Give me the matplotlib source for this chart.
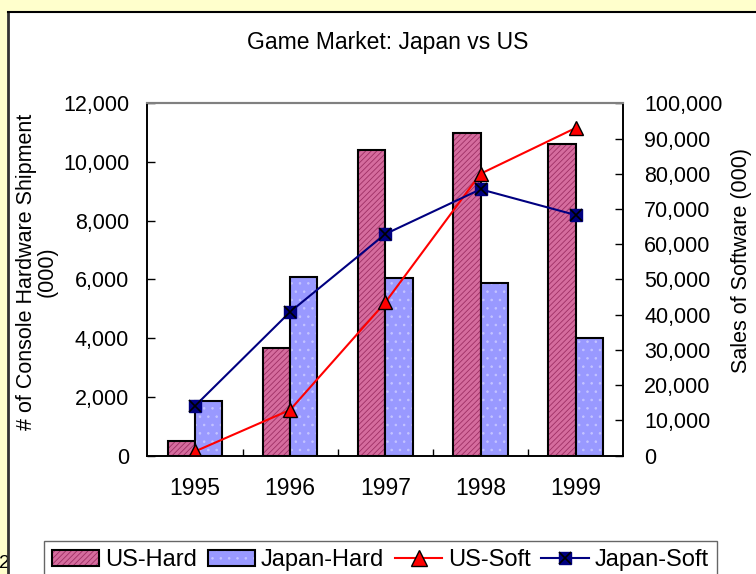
import matplotlib
matplotlib.use('Agg')
import numpy as np
import matplotlib.pyplot as plt
from matplotlib.patches import Rectangle, Patch
from matplotlib.lines import Line2D
from matplotlib.ticker import FuncFormatter, MultipleLocator

years = ['1995', '1996', '1997', '1998', '1999']
us_hard = [500, 3680, 10420, 10980, 10600]        # console hardware (000)
japan_hard = [1850, 6100, 6060, 5870, 4020]
us_soft = [1200, 13000, 43500, 80000, 93000]      # software sales (000)
japan_soft = [14100, 40800, 62900, 75600, 68300]

plt.rcParams['font.family'] = ['Liberation Sans', 'DejaVu Sans']
plt.rcParams['hatch.linewidth'] = 0.6

W, H = 756, 574
def fx(px):
    return px / W
def fy(py):
    return 1 - py / H

pink, pink_hatch = '#D56C9E', '#9E2F64'
blue, blue_hatch = '#9999FF', '#C4C4FF'
navy = '#000080'

fig = plt.figure(figsize=(W / 100, H / 100), dpi=100)
fig.patch.set_facecolor('#FFFFCC')

# page number peeking out from behind the chart area
fig.text(fx(-1), fy(563), '2', fontsize=14, ha='left', va='center', zorder=-2)
# white chart area with its top/left border
fig.add_artist(Rectangle((fx(8), 0), 1, fy(11.5), transform=fig.transFigure,
                         facecolor='white', edgecolor='none', zorder=-1))
fig.add_artist(Line2D([fx(8), fx(8)], [0, fy(11.5)], color='#333333', lw=2.0))
fig.add_artist(Line2D([fx(8), 1], [fy(11.5), fy(11.5)], color='black', lw=1.5))

ax = fig.add_axes([fx(147.3), fy(455.7), (623.3 - 147.3) / W, (455.7 - 103.3) / H])
x = np.arange(len(years))
w = 0.287

# hatched fill, then black outline on top
ax.bar(x - w / 2, us_hard, w, color=pink, edgecolor=pink_hatch, hatch='//////', linewidth=0)
ax.bar(x - w / 2, us_hard, w, fill=False, edgecolor='black', linewidth=1.5)
ax.bar(x + w / 2, japan_hard, w, color=blue, edgecolor=blue_hatch, hatch='..', linewidth=0)
ax.bar(x + w / 2, japan_hard, w, fill=False, edgecolor='black', linewidth=1.5)

ax.set_xlim(-0.5, 4.5)
ax.set_ylim(0, 12000)
ax.yaxis.set_major_locator(MultipleLocator(2000))
ax.yaxis.set_major_formatter(FuncFormatter(lambda v, p: f'{v:,.0f}'))
ax.set_xticks(x, years)
ax.set_xticks(x[:-1] + 0.5, minor=True)
ax.tick_params(axis='x', which='major', length=0, pad=15, labelsize=16.5)
ax.tick_params(axis='x', which='minor', direction='in', length=5, width=1)
ax.tick_params(axis='y', direction='in', length=6, width=1, pad=13, labelsize=15.5)

ax2 = ax.twinx()
ax2.set_ylim(0, 100000)
ax2.yaxis.set_major_locator(MultipleLocator(10000))
ax2.yaxis.set_major_formatter(FuncFormatter(lambda v, p: f'{v:,.0f}'))
ax2.tick_params(axis='y', direction='in', length=6, width=1, pad=15, labelsize=15.5)

ax2.plot(x, us_soft, color='red', lw=1.5, marker='^', ms=10.5, mfc='red', mec='black', mew=1)
ax2.plot(x, japan_soft, color=navy, lw=1.5, marker='s', ms=9, mfc=navy, mec=navy)
ax2.plot(x, japan_soft, ls='none', marker='x', ms=8.5, mec='black', mew=1.2)

for a in (ax, ax2):
    for side in ('left', 'right', 'bottom'):
        a.spines[side].set_color('black')
        a.spines[side].set_linewidth(1.2)
    a.spines['top'].set_color('#808080')
    a.spines['top'].set_linewidth(1.5)

fig.text(fx(388), fy(43), 'Game Market: Japan vs US', ha='center', va='center', fontsize=16.5)
fig.text(fx(37), fy(272), '# of Console Hardware Shipment\n(000)', rotation=90,
         ha='center', va='center', ma='center', fontsize=15.5, linespacing=1.0)
fig.text(fx(741), fy(261), 'Sales of Software (000)', rotation=90,
         ha='center', va='center', fontsize=15.5)

h1 = (Patch(facecolor=pink, edgecolor=pink_hatch, hatch='//////', lw=0),
      Patch(fill=False, edgecolor='black', lw=1.5))
h2 = (Patch(facecolor=blue, edgecolor=blue_hatch, hatch='..', lw=0),
      Patch(fill=False, edgecolor='black', lw=1.5))
h3 = Line2D([], [], color='red', lw=1.5, marker='^', ms=11, mfc='red', mec='black', mew=1)
h4 = (Line2D([], [], color=navy, lw=1.5, marker='s', ms=9, mfc=navy, mec=navy),
      Line2D([], [], ls='none', marker='x', ms=8.5, mec='black', mew=1.2))
leg = fig.legend([h1, h2, h3, h4], ['US-Hard', 'Japan-Hard', 'US-Soft', 'Japan-Soft'],
                 ncol=4, loc='upper left', bbox_to_anchor=(fx(44), fy(541)),
                 bbox_transform=fig.transFigure, fontsize=17, frameon=True,
                 fancybox=False, edgecolor='#404040', borderpad=0.35,
                 handlelength=2.0, handletextpad=0.25, columnspacing=0.45,
                 borderaxespad=0)
leg.get_frame().set_linewidth(1.0)

fig.savefig('out.png', dpi=100, facecolor=fig.get_facecolor())
